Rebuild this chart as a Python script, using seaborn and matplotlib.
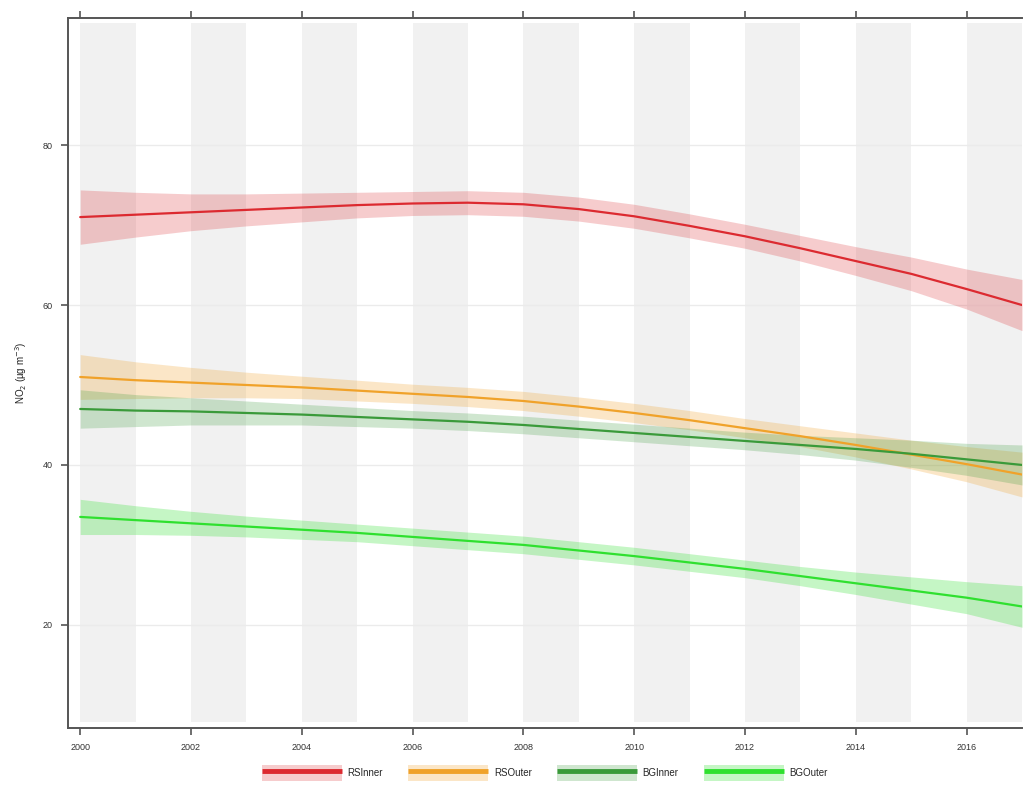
import numpy as np
import pandas as pd
import matplotlib
matplotlib.use("Agg")
import matplotlib.pyplot as plt
from matplotlib.patches import Patch
from matplotlib.lines import Line2D
import seaborn as sns

# Smoothed annual NO2 trends per site class, with 95% confidence half-widths
years = list(range(2000, 2018))

rs_inner = [71.0, 71.3, 71.6, 71.9, 72.2, 72.5, 72.7, 72.8, 72.6, 72.0,
            71.1, 69.9, 68.6, 67.1, 65.5, 63.9, 62.0, 60.0]
rs_inner_ci = [3.4, 2.8, 2.3, 2.0, 1.8, 1.6, 1.5, 1.5, 1.5, 1.5,
               1.5, 1.5, 1.5, 1.6, 1.8, 2.1, 2.5, 3.2]

rs_outer = [51.0, 50.6, 50.3, 50.0, 49.7, 49.3, 48.9, 48.5, 48.0, 47.3,
            46.5, 45.6, 44.6, 43.6, 42.5, 41.3, 40.1, 38.8]
rs_outer_ci = [2.8, 2.3, 1.9, 1.6, 1.4, 1.3, 1.2, 1.2, 1.2, 1.2,
               1.2, 1.2, 1.2, 1.3, 1.5, 1.8, 2.2, 2.8]

bg_inner = [47.0, 46.8, 46.7, 46.5, 46.3, 46.0, 45.7, 45.4, 45.0, 44.5,
            44.0, 43.5, 43.0, 42.5, 42.0, 41.4, 40.7, 40.0]
bg_inner_ci = [2.4, 2.0, 1.7, 1.5, 1.3, 1.2, 1.1, 1.1, 1.1, 1.1,
               1.1, 1.1, 1.1, 1.2, 1.4, 1.7, 2.0, 2.5]

bg_outer = [33.5, 33.1, 32.7, 32.3, 31.9, 31.5, 31.0, 30.5, 30.0, 29.3,
            28.6, 27.8, 27.0, 26.1, 25.2, 24.3, 23.4, 22.3]
bg_outer_ci = [2.2, 1.8, 1.5, 1.3, 1.2, 1.1, 1.1, 1.1, 1.1, 1.1,
               1.1, 1.1, 1.1, 1.2, 1.4, 1.7, 2.0, 2.6]

sites = ["RSInner", "RSOuter", "BGInner", "BGOuter"]
line_colors = ["#dc2a30", "#f0a22a", "#3a9a3a", "#2fe02f"]
fill_alpha = [0.24, 0.26, 0.24, 0.28]

x_ticks = list(range(2000, 2017, 2))
y_ticks = [20, 40, 60, 80]

series = {"RSInner": (rs_inner, rs_inner_ci),
          "RSOuter": (rs_outer, rs_outer_ci),
          "BGInner": (bg_inner, bg_inner_ci),
          "BGOuter": (bg_outer, bg_outer_ci)}

rows = []
for s in sites:
    vals, ci = series[s]
    for y, v, c in zip(years, vals, ci):
        rows.append({"year": y, "no2": v, "lo": v - c, "hi": v + c, "site": s})
df = pd.DataFrame(rows)

sns.set_theme(style="white")
plt.rcParams["font.family"] = ["Liberation Sans", "DejaVu Sans"]

fig = plt.figure(figsize=(10.27, 7.87), dpi=100)
ax = fig.add_axes([68 / 1027, 1 - 728 / 787, (1022 - 68) / 1027, (728 - 18) / 787])

# alternating yearly shading
for y0 in range(2000, 2017, 2):
    ax.axvspan(y0, y0 + 1, ymin=0.008, ymax=0.993, color="#f1f1f1", lw=0, zorder=0)
for yv in y_ticks:
    ax.axhline(yv, color="#ebebeb", lw=1.0, zorder=0.5)

palette = dict(zip(sites, line_colors))
for s, col, a in zip(sites, line_colors, fill_alpha):
    d = df[df["site"] == s]
    ax.fill_between(d["year"], d["lo"], d["hi"], color=col, alpha=a, lw=0, zorder=1)

sns.lineplot(data=df, x="year", y="no2", hue="site", hue_order=sites,
             palette=palette, lw=1.6, legend=False, ax=ax, zorder=2)

ax.set_xlim(1999.78, 2017.0)
ax.set_ylim(7.1, 95.9)
ax.set_xticks(x_ticks)
ax.set_xticklabels([str(t) for t in x_ticks])
ax.set_yticks(y_ticks)
ax.set_xlabel("")
ax.set_ylabel("NO$_2$ (µg m$^{-3}$)", fontsize=7, color="#222222", labelpad=10)

for side in ["left", "bottom", "top"]:
    ax.spines[side].set_visible(True)
    ax.spines[side].set_color("#555555")
    ax.spines[side].set_linewidth(1.4)
ax.spines["right"].set_visible(False)

ax.tick_params(axis="both", which="major", direction="out", length=5, width=1.2,
               color="#555555", labelsize=6.5, labelcolor="#333333", pad=6)
ax.tick_params(axis="x", top=True, labeltop=False, bottom=True)
ax.tick_params(axis="y", left=True)

handles = []
for col, a in zip(line_colors, fill_alpha):
    handles.append((Patch(facecolor=col, alpha=a, edgecolor="none"),
                    Line2D([0], [0], color=col, lw=3.5, solid_capstyle="butt")))
fig.legend(handles, sites, loc="center", bbox_to_anchor=(545 / 1027, 1 - 773 / 787),
           ncol=4, frameon=False, fontsize=7, handlelength=8.2, handleheight=2.0,
           handletextpad=0.6, columnspacing=2.6)

fig.savefig("out.png", dpi=100)
